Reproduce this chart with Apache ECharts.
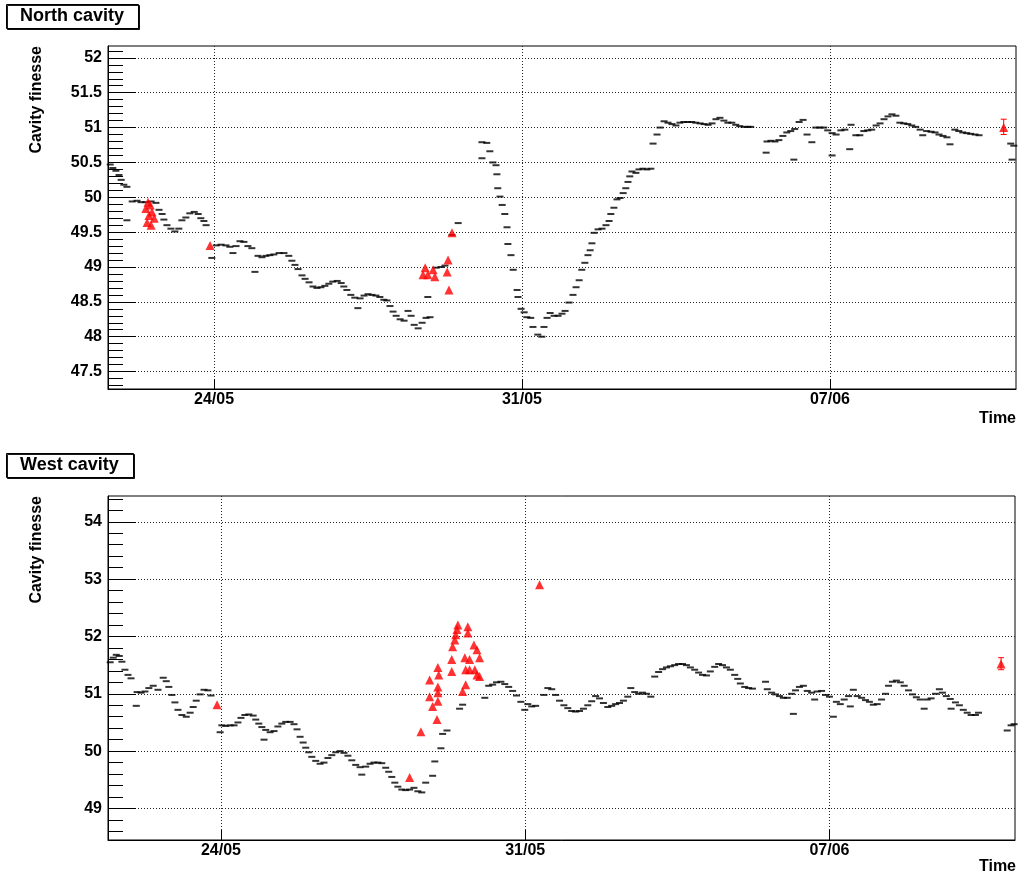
<!DOCTYPE html>
<html>
<head>
<meta charset="utf-8">
<script src="https://cdn.jsdelivr.net/npm/echarts@6/dist/echarts.min.js"></script>
<style>
html,body{margin:0;padding:0;background:#fff;}
#main{width:1019px;height:879px;}
</style>
</head>
<body>
<div id="main"></div>
<script>
// Time is expressed as day of May (June days continue: 32 = 1 June, 38 = 7 June)
const tickDays = [24, 31, 38];
const tickLabels = ['24/05', '31/05', '07/06'];

const northYTicks = [47.5, 48, 48.5, 49, 49.5, 50, 50.5, 51, 51.5, 52];
const westYTicks = [49, 50, 51, 52, 53, 54];

// North cavity: continuous measurement (black)
const northDays = [21.64,21.70,21.77,21.84,21.89,21.95,22.02,22.02,22.14,22.25,22.34,22.45,22.57,22.68,22.75,22.82,22.86,22.93,23.02,23.11,23.20,23.27,23.36,23.45,23.55,23.64,23.70,23.77,23.82,23.95,
24.05,24.16,24.27,24.36,24.43,24.50,24.59,24.68,24.77,24.86,24.93,25.00,25.09,25.18,25.27,25.36,25.48,25.59,25.70,25.77,25.84,25.91,26.00,26.07,26.16,26.25,26.34,26.43,26.52,26.61,26.70,26.80,26.89,26.95,
27.02,27.11,27.20,27.27,27.32,27.41,27.50,27.59,27.68,27.77,27.86,27.93,28.00,28.07,28.14,28.23,28.32,28.41,28.48,28.55,28.64,28.73,28.82,28.91,28.86,29.05,29.16,29.25,29.41,29.55,
30.09,30.20,30.27,30.09,30.34,30.41,30.43,30.45,30.50,30.55,30.61,30.66,30.68,30.75,30.80,30.89,30.91,30.98,31.05,31.11,31.20,31.25,31.36,31.45,31.50,31.57,31.64,31.73,31.82,31.91,31.98,
32.07,32.16,32.23,32.30,32.36,32.43,32.50,32.55,32.59,32.64,32.73,32.82,32.91,32.98,33.02,33.09,33.16,33.23,33.30,33.36,33.41,33.45,33.50,33.59,33.66,33.75,33.84,33.93,33.98,
34.07,34.14,34.23,34.32,34.41,34.50,34.59,34.68,34.77,34.86,34.95,35.05,35.14,35.23,35.32,35.41,35.50,35.59,35.68,35.77,35.86,35.95,36.05,36.14,36.20,
36.55,36.57,36.66,36.75,36.84,36.93,37.02,37.11,37.18,37.20,37.30,37.39,37.48,37.59,37.68,37.77,37.86,37.95,38.05,38.05,38.14,38.25,38.34,38.45,38.48,38.59,38.68,38.77,38.86,38.95,
39.05,39.14,39.23,39.32,39.41,39.50,39.59,39.68,39.77,39.86,39.95,40.05,40.11,40.20,40.30,40.39,40.48,40.57,40.66,40.73,40.84,40.93,41.02,41.11,41.20,41.30,41.39,
42.11,42.14,42.18];
const northFinesse = [50.47,50.42,50.38,50.32,50.25,50.18,50.15,49.67,49.94,49.95,49.93,49.93,49.94,49.92,49.82,49.76,49.68,49.60,49.55,49.51,49.55,49.67,49.71,49.77,49.79,49.76,49.70,49.66,49.60,49.13,
49.31,49.32,49.31,49.29,49.20,49.30,49.37,49.36,49.30,49.27,48.93,49.16,49.14,49.16,49.17,49.18,49.20,49.20,49.16,49.09,49.03,48.97,48.88,48.83,48.78,48.72,48.70,48.71,48.73,48.76,48.79,48.80,48.77,48.72,
48.67,48.60,48.56,48.41,48.55,48.59,48.61,48.60,48.59,48.57,48.53,48.52,48.44,48.36,48.30,48.25,48.23,48.37,48.30,48.17,48.12,48.20,48.27,48.28,48.57,48.99,49.00,49.02,49.46,49.63,
50.79,50.78,50.66,50.56,50.50,50.46,50.33,50.13,50.01,49.89,49.76,49.57,49.33,49.17,48.96,48.67,48.57,48.40,48.35,48.28,48.27,48.14,48.03,48.00,48.14,48.27,48.34,48.30,48.30,48.33,48.37,
48.49,48.60,48.71,48.81,48.96,49.06,49.17,49.24,49.34,49.49,49.54,49.55,49.60,49.66,49.76,49.85,49.97,49.99,50.06,50.13,50.22,50.30,50.37,50.35,50.40,50.41,50.40,50.41,50.77,
50.90,51.00,51.09,51.07,51.05,51.03,51.07,51.08,51.08,51.08,51.07,51.06,51.05,51.04,51.06,51.12,51.14,51.10,51.07,51.07,51.04,51.02,51.01,51.01,51.01,
50.64,50.80,50.81,50.80,50.82,50.88,50.93,50.95,50.54,50.98,51.08,51.11,50.90,50.79,51.00,51.00,51.00,50.96,50.60,50.92,50.90,50.96,50.97,50.69,51.04,50.89,50.89,50.95,50.96,50.97,
51.03,51.06,51.12,51.16,51.19,51.17,51.07,51.06,51.05,51.03,51.01,50.97,50.89,50.95,50.94,50.93,50.90,50.88,50.86,50.76,50.97,50.95,50.93,50.92,50.91,50.90,50.89,
50.77,50.54,50.74];

// North cavity: reference measurements (red triangles)
const northRefDays = [22.45,22.48,22.50,22.52,22.55,22.57,22.59,22.64,23.91,28.75,28.80,28.86,28.98,29.02,29.30,29.32,29.34,29.41,41.95];
const northRefFinesse = [49.84,49.64,49.93,49.74,49.89,49.60,49.79,49.70,49.31,48.89,48.99,48.89,48.96,48.86,48.93,49.10,48.67,49.49,51.00];
const northErrDays = [41.95];
const northErrLow = [50.90];
const northErrHigh = [51.12];

// West cavity: continuous measurement (black)
const westDays = [21.45,21.52,21.59,21.66,21.72,21.79,21.86,21.93,22.05,22.07,22.16,22.25,22.34,22.44,22.55,22.67,22.74,22.80,22.87,22.94,23.01,23.10,23.20,23.29,23.36,23.43,23.52,23.61,23.70,23.77,
23.98,24.02,24.11,24.21,24.30,24.39,24.46,24.55,24.64,24.74,24.80,24.87,24.94,24.99,25.03,25.13,25.22,25.31,25.40,25.49,25.59,25.68,25.75,25.82,25.89,25.95,26.02,26.09,26.18,26.28,26.37,26.46,26.55,26.64,26.74,26.83,26.92,
27.01,27.10,27.20,27.24,27.33,27.43,27.52,27.61,27.70,27.79,27.86,27.93,28.00,28.07,28.16,28.25,28.34,28.44,28.53,28.62,28.71,28.87,28.92,29.06,29.10,29.20,29.49,29.56,
30.07,30.16,30.25,30.34,30.44,30.53,30.62,30.71,30.80,30.90,30.99,31.06,31.15,31.24,31.43,31.52,31.61,31.70,31.79,31.89,31.98,32.07,32.16,32.25,32.34,32.44,32.53,32.62,32.71,32.80,32.90,32.99,
33.08,33.17,33.26,33.36,33.43,33.52,33.61,33.70,33.79,33.89,33.98,34.07,34.16,34.25,34.34,34.44,34.53,34.62,34.71,34.80,34.90,34.99,35.08,35.17,35.26,35.36,35.45,35.54,35.63,35.72,35.82,35.89,35.95,36.05,36.14,36.23,
36.53,36.57,36.67,36.76,36.85,36.94,37.03,37.13,37.17,37.22,37.31,37.40,37.49,37.59,37.66,37.72,37.82,37.91,38.00,38.09,38.16,38.25,38.34,38.44,38.48,38.55,38.64,38.74,38.83,38.92,
39.01,39.10,39.20,39.29,39.36,39.45,39.54,39.63,39.72,39.82,39.91,40.00,40.09,40.18,40.25,40.34,40.44,40.53,40.60,40.69,40.78,40.80,40.90,40.99,41.08,41.17,41.26,41.36,41.43,
42.09,42.18,42.25];
const westFinesse = [51.55,51.63,51.68,51.66,51.56,51.42,51.33,51.27,50.79,51.03,51.02,51.04,51.10,51.14,51.07,51.28,51.22,51.12,50.98,50.85,50.72,50.63,50.60,50.67,50.77,50.88,50.99,51.07,51.06,50.97,
50.33,50.45,50.44,50.45,50.45,50.50,50.58,50.63,50.64,50.62,50.55,50.48,50.42,50.20,50.37,50.33,50.35,50.43,50.48,50.51,50.51,50.47,50.38,50.25,50.15,50.06,49.98,49.90,49.83,49.78,49.80,49.88,49.93,49.98,50.00,49.97,49.92,
49.84,49.76,49.72,49.59,49.73,49.78,49.80,49.80,49.79,49.71,49.64,49.55,49.45,49.38,49.33,49.32,49.33,49.36,49.30,49.28,49.45,49.57,49.82,50.05,50.30,50.36,50.74,50.81,
50.93,51.14,51.16,51.20,51.21,51.17,51.12,51.05,50.97,50.86,50.72,50.82,50.78,50.79,50.98,51.10,51.08,50.98,50.88,50.80,50.75,50.70,50.69,50.70,50.74,50.80,50.87,50.96,50.92,50.84,50.77,50.79,
50.82,50.84,50.88,50.95,51.10,51.03,51.00,51.02,51.00,50.95,51.30,51.38,51.43,51.46,51.48,51.50,51.52,51.52,51.50,51.46,51.42,51.37,51.33,51.32,51.39,51.47,51.52,51.50,51.46,51.42,51.33,51.26,51.18,51.12,51.10,51.09,
51.21,51.08,51.02,50.99,50.96,50.93,50.93,51.00,50.65,51.06,51.12,51.14,51.05,51.02,50.90,51.04,51.05,50.98,50.95,50.60,50.86,50.82,50.90,50.96,50.78,51.07,50.96,50.93,50.89,50.86,
50.81,50.82,50.90,51.00,51.14,51.21,51.23,51.20,51.14,51.06,50.99,50.94,50.90,50.74,50.90,50.92,51.00,51.08,51.02,50.96,50.91,50.74,50.85,50.80,50.72,50.67,50.63,50.63,50.67,
50.36,50.45,50.47];

// West cavity: reference measurements (red triangles)
const westRefDays = [23.91,28.34,28.60,28.80,28.80,28.87,28.97,28.99,29.01,28.99,28.99,28.99,29.31,29.31,29.33,29.38,29.40,29.43,29.45,29.56,29.63,29.61,29.63,29.68,29.68,29.72,29.72,29.82,29.89,29.84,29.89,29.95,29.95,31.33,41.95];
const westRefFinesse = [50.81,49.54,50.34,51.24,50.95,50.78,50.55,51.46,51.33,51.12,51.02,50.87,51.60,51.39,51.82,51.94,52.03,52.12,52.20,51.04,51.16,51.63,51.42,52.17,52.06,51.60,51.42,51.85,51.77,51.42,51.33,51.63,51.30,52.90,51.52];
const westErrDays = [41.95];
const westErrLow = [51.42];
const westErrHigh = [51.63];

const FONT = '"Liberation Sans", Arial, Helvetica, sans-serif';
const BLACK = '#000';
const RED = '#ff0000';

function pairs(xs, ys) { return xs.map((x, i) => [x, ys[i]]); }
function triples(xs, a, b) { return xs.map((x, i) => [x, a[i], b[i]]); }
function fmtDay(v) {
  for (let i = 0; i < tickDays.length; i++) if (Math.abs(tickDays[i] - v) < 1e-6) return tickLabels[i];
  return '';
}
function minorTicks(from, to, step) {
  const out = [];
  for (let v = from; v <= to + 1e-9; v += step) out.push(Math.round(v * 100) / 100);
  return out;
}

const labelFont = { color: BLACK, fontFamily: FONT, fontWeight: 'bold', fontSize: 16 };
const gridLine = { show: true, lineStyle: { color: '#222', width: 1, type: [1, 2] } };

function xAxisFor(g, min, max) {
  return {
    type: 'value', gridIndex: g, min: min, max: max,
    axisLine: { show: true, onZero: false, lineStyle: { color: BLACK, width: 1 } },
    axisTick: { show: true, inside: true, length: 10, customValues: tickDays, lineStyle: { color: BLACK, width: 1 } },
    axisLabel: Object.assign({ show: true, customValues: tickDays, formatter: fmtDay, margin: 3 }, labelFont),
    splitLine: gridLine
  };
}
function yAxisMajor(g, min, max, ticks) {
  return {
    type: 'value', gridIndex: g, position: 'left', min: min, max: max,
    axisLine: { show: true, onZero: false, lineStyle: { color: BLACK, width: 1 } },
    axisTick: { show: true, inside: true, length: 28, customValues: ticks, lineStyle: { color: BLACK, width: 1 } },
    axisLabel: Object.assign({ show: true, customValues: ticks, margin: 6 }, labelFont),
    splitLine: gridLine
  };
}
function yAxisMinor(g, min, max, ticks) {
  return {
    type: 'value', gridIndex: g, position: 'left', offset: 0, min: min, max: max,
    axisLine: { show: false },
    axisTick: { show: true, inside: true, length: 15, customValues: ticks, lineStyle: { color: BLACK, width: 1 } },
    axisLabel: { show: false },
    splitLine: { show: false }
  };
}
function errRender(params, api) {
  const x = api.value(0), lo = api.value(1), hi = api.value(2);
  const a = api.coord([x, hi]), b = api.coord([x, lo]);
  const cap = 3;
  const style = { stroke: RED, lineWidth: 1 };
  return {
    type: 'group', children: [
      { type: 'line', shape: { x1: a[0], y1: a[1], x2: b[0], y2: b[1] }, style: style },
      { type: 'line', shape: { x1: a[0] - cap, y1: a[1], x2: a[0] + cap, y2: a[1] }, style: style },
      { type: 'line', shape: { x1: b[0] - cap, y1: b[1], x2: b[0] + cap, y2: b[1] }, style: style }
    ]
  };
}
function titleBox(text, top) {
  return {
    text: text, left: 6, top: top, padding: [3, 15, 3, 14],
    borderColor: BLACK, borderWidth: 1, backgroundColor: '#fff',
    shadowColor: 'rgba(0,0,0,0.9)', shadowOffsetX: 1, shadowOffsetY: 1, shadowBlur: 0,
    textStyle: { color: BLACK, fontFamily: FONT, fontWeight: 'bold', fontSize: 18, lineHeight: 19 }
  };
}

const chart = echarts.init(document.getElementById('main'));
chart.setOption({
  animation: false,
  backgroundColor: '#fff',
  title: [titleBox('North cavity', 4), titleBox('West cavity', 453)],
  grid: [
    { left: 108, top: 46, width: 908, height: 343, show: true, borderColor: BLACK, borderWidth: 1, backgroundColor: 'transparent' },
    { left: 108, top: 496, width: 907, height: 344, show: true, borderColor: BLACK, borderWidth: 1, backgroundColor: 'transparent' }
  ],
  xAxis: [xAxisFor(0, 21.59, 42.23), xAxisFor(1, 21.40, 42.27)],
  yAxis: [
    yAxisMajor(0, 47.25, 52.17, northYTicks),
    yAxisMinor(0, 47.25, 52.17, minorTicks(47.3, 52.1, 0.1)),
    yAxisMajor(1, 48.45, 54.45, westYTicks),
    yAxisMinor(1, 48.45, 54.45, minorTicks(48.6, 54.4, 0.2))
  ],
  graphic: [
    { type: 'text', x: 37, y: 46, rotation: Math.PI / 2, style: { text: 'Cavity finesse', align: 'right', verticalAlign: 'middle', fill: BLACK, fontFamily: FONT, fontWeight: 'bold', fontSize: 16 } },
    { type: 'text', x: 37, y: 496, rotation: Math.PI / 2, style: { text: 'Cavity finesse', align: 'right', verticalAlign: 'middle', fill: BLACK, fontFamily: FONT, fontWeight: 'bold', fontSize: 16 } },
    { type: 'text', x: 1016, y: 419, style: { text: 'Time', align: 'right', verticalAlign: 'middle', fill: BLACK, fontFamily: FONT, fontWeight: 'bold', fontSize: 16 } },
    { type: 'text', x: 1016, y: 867, style: { text: 'Time', align: 'right', verticalAlign: 'middle', fill: BLACK, fontFamily: FONT, fontWeight: 'bold', fontSize: 16 } }
  ],
  series: [
    { type: 'scatter', xAxisIndex: 0, yAxisIndex: 0, data: pairs(northDays, northFinesse), symbol: 'rect', symbolSize: [7, 2], itemStyle: { color: BLACK }, silent: true, z: 3 },
    { type: 'scatter', xAxisIndex: 0, yAxisIndex: 0, data: pairs(northRefDays, northRefFinesse), symbol: 'triangle', symbolSize: 9, itemStyle: { color: RED }, silent: true, z: 4 },
    { type: 'custom', xAxisIndex: 0, yAxisIndex: 0, data: triples(northErrDays, northErrLow, northErrHigh), encode: { x: 0, y: [1, 2] }, renderItem: errRender, silent: true, z: 4 },
    { type: 'scatter', xAxisIndex: 1, yAxisIndex: 2, data: pairs(westDays, westFinesse), symbol: 'rect', symbolSize: [7, 2], itemStyle: { color: BLACK }, silent: true, z: 3 },
    { type: 'scatter', xAxisIndex: 1, yAxisIndex: 2, data: pairs(westRefDays, westRefFinesse), symbol: 'triangle', symbolSize: 9, itemStyle: { color: RED }, silent: true, z: 4 },
    { type: 'custom', xAxisIndex: 1, yAxisIndex: 2, data: triples(westErrDays, westErrLow, westErrHigh), encode: { x: 0, y: [1, 2] }, renderItem: errRender, silent: true, z: 4 }
  ]
});
</script>
</body>
</html>
